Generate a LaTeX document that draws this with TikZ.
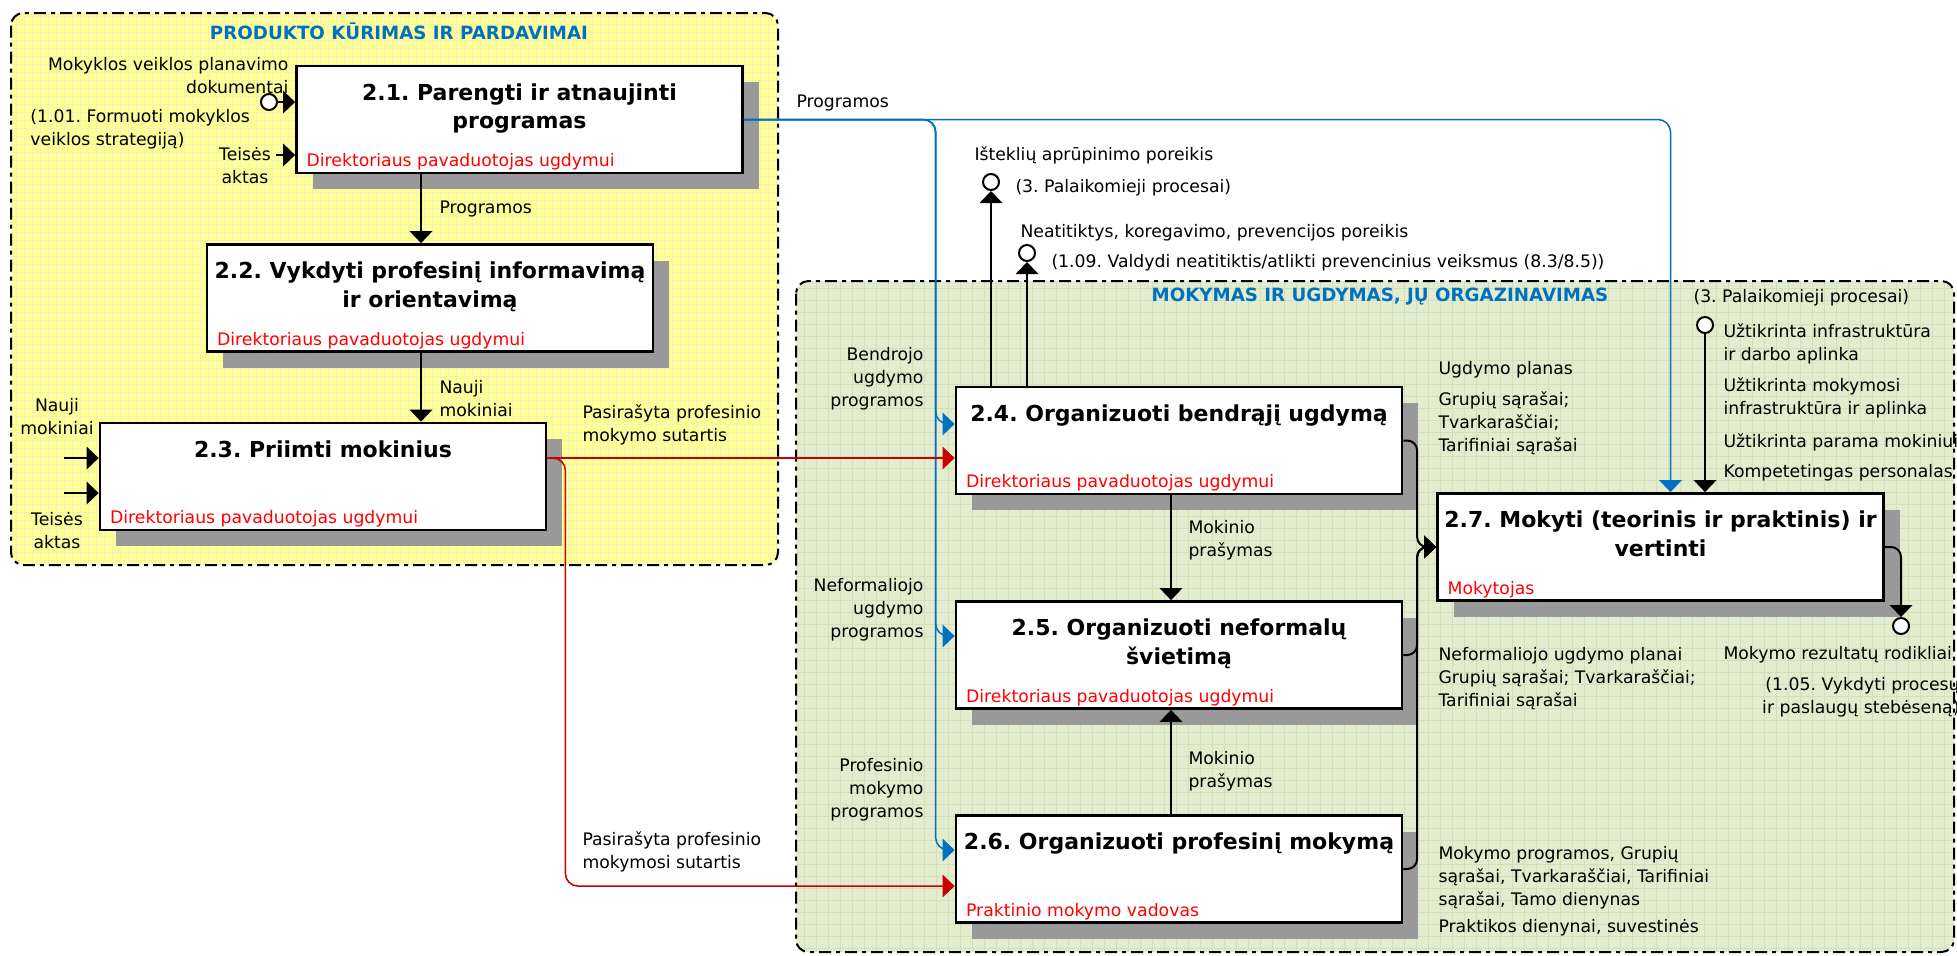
\documentclass[tikz,border=0pt]{standalone}
\usepackage{fontspec}
\setmainfont{DejaVu Sans}
\usetikzlibrary{arrows.meta,positioning,shadows}

\definecolor{flowblue}{RGB}{0,112,192}
\definecolor{flowred}{RGB}{200,0,0}
\definecolor{respred}{RGB}{255,0,0}
\definecolor{grpyellow}{RGB}{255,255,150}
\definecolor{gridyellow}{RGB}{242,242,185}
\definecolor{grpgreen}{RGB}{228,236,208}
\definecolor{gridgreen}{RGB}{210,224,184}

\begin{document}
\frenchspacing
\begin{tikzpicture}[x=0.4pt,y=-0.4pt,>={Triangle[length=4.8pt,width=9pt]},
    procbox/.style={draw,line width=1.1pt,fill=white,minimum width=178.4pt,minimum height=42.8pt,inner sep=0pt,
        drop shadow={shadow xshift=6.4pt,shadow yshift=-6.4pt,fill=black!40,opacity=1}},
    ptitle/.style={font=\fontsize{8.8}{11.3}\selectfont\bfseries,align=center,inner sep=0pt},
    resp/.style={font=\fontsize{6.9}{9.2}\selectfont,text=respred,inner sep=0pt},
    lbl/.style={font=\fontsize{6.9}{9.2}\selectfont,inner sep=0pt},
    grptitle/.style={font=\fontsize{7.3}{9}\selectfont\bfseries,text=flowblue,inner sep=0pt},
    grpframe/.style={line width=0.8pt,dash pattern=on 4.8pt off 2pt on 1.6pt off 2pt,rounded corners=5pt},
    tunnel/.style={circle,draw,line width=0.8pt,fill=white,minimum size=6.4pt,inner sep=0pt},
    flow/.style={->,line width=0.8pt,rounded corners=4pt},
    blueflow/.style={->,color=flowblue,line width=0.6pt,rounded corners=5pt},
    redflow/.style={->,color=flowred,line width=0.6pt,rounded corners=5pt}]

\useasboundingbox (0,0) rectangle (1957,955);

% groups
\begin{scope}
  \clip[rounded corners=5pt] (11,13) rectangle (778,565);
  \fill[grpyellow] (11,13) rectangle (778,565);
  \draw[gridyellow,line width=0.3pt,step=3.2pt] (11,13) grid (778,565);
\end{scope}
\draw[grpframe] (11,13) rectangle (778,565);
\node[grptitle] (gY) at (399,31) {PRODUKTO KŪRIMAS IR PARDAVIMAI};

\begin{scope}
  \clip[rounded corners=5pt] (796,281) rectangle (1954,952);
  \fill[grpgreen] (796,281) rectangle (1954,952);
  \draw[gridgreen,line width=0.3pt,step=4.8pt] (796,281) grid (1954,952);
\end{scope}
\draw[grpframe] (796,281) rectangle (1954,952);
\node[grptitle] (gG) at (1380,297) {MOKYMAS IR UGDYMAS, JŲ ORGAZINAVIMAS};

% activities
\node[procbox] (b21) at (519.5,119.5) {};
\node[ptitle,below=7.4pt of b21.north] (t21) {2.1. Parengti ir atnaujinti\\programas};
\node[resp,above right=1.4pt and 4.4pt of b21.south west] (r21) {Direktoriaus pavaduotojas ugdymui};

\node[procbox] (b22) at (430,298) {};
\node[ptitle,below=7.4pt of b22.north] (t22) {2.2. Vykdyti profesinį informavimą\\ir orientavimą};
\node[resp,above right=1.4pt and 4.4pt of b22.south west] (r22) {Direktoriaus pavaduotojas ugdymui};

\node[procbox] (b23) at (323,476.5) {};
\node[ptitle,below=7.4pt of b23.north] (t23) {2.3. Priimti mokinius};
\node[resp,above right=1.4pt and 4.4pt of b23.south west] (r23) {Direktoriaus pavaduotojas ugdymui};

\node[procbox] (b24) at (1179,440.5) {};
\node[ptitle,below=7.4pt of b24.north] (t24) {2.4. Organizuoti bendrąjį ugdymą};
\node[resp,above right=1.4pt and 4.4pt of b24.south west] (r24) {Direktoriaus pavaduotojas ugdymui};

\node[procbox] (b25) at (1179,655) {};
\node[ptitle,below=7.4pt of b25.north] (t25) {2.5. Organizuoti neformalų\\švietimą};
\node[resp,above right=1.4pt and 4.4pt of b25.south west] (r25) {Direktoriaus pavaduotojas ugdymui};

\node[procbox] (b26) at (1179,869) {};
\node[ptitle,below=7.4pt of b26.north] (t26) {2.6. Organizuoti profesinį mokymą};
\node[resp,above right=1.4pt and 4.4pt of b26.south west] (r26) {Praktinio mokymo vadovas};

\node[procbox] (b27) at (1660.5,547) {};
\node[ptitle,below=7.4pt of b27.north] (t27) {2.7. Mokyti (teorinis ir praktinis) ir\\vertinti};
\node[resp,above right=1.4pt and 4.4pt of b27.south west] (r27) {Mokytojas};

% tunnels and free ends
\node[tunnel] (o21) at (269,102) {};
\coordinate (i21) at (276,155);
\coordinate (i23a) at (64,458);
\coordinate (i23b) at (64,493);
\coordinate (cx1) at (421,0);
\coordinate (cx2) at (1171,0);
\coordinate (o23) at ([yshift=7.4pt]b23.east);
\coordinate (i26r) at ([yshift=-6.8pt]b26.west);
\coordinate (j27) at ([xshift=-7.6pt]b27.west);
\node[tunnel] (o24a) at (991,182) {};
\node[tunnel] (o24b) at (1027,253) {};
\node[tunnel] (m27) at (1705,325) {};
\node[tunnel] (o27) at (1901,626) {};

% blue flows
\draw[blueflow] (b21.east) -| ([xshift=4pt]b27.north);
\draw[blueflow] (b21.east) -| ([xshift=-7.6pt,yshift=6.6pt]b24.west) -- ([yshift=6.6pt]b24.west);
\draw[blueflow] (b21.east) -| ([xshift=-7.6pt,yshift=7.6pt]b25.west) -- ([yshift=7.6pt]b25.west);
\draw[blueflow] (b21.east) -| ([xshift=-7.6pt,yshift=7.6pt]b26.west) -- ([yshift=7.6pt]b26.west);

% red flows
\draw[redflow] (o23) -- (o23 -| b24.west);
\draw[redflow] (o23) -- ++(18,0) |- (i26r);

% black flows
\draw[flow] (o21.east) -- (o21 -| b21.west);
\draw[flow] (i21) -- (i21 -| b21.west);
\draw[flow] (cx1 |- b21.south) -- (cx1 |- b22.north);
\draw[flow] (cx1 |- b22.south) -- (cx1 |- b23.north);
\draw[flow] (i23a) -- (i23a -| b23.west);
\draw[flow] (i23b) -- (i23b -| b23.west);
\draw[flow] (o24a |- b24.north) -- (o24a.south);
\draw[flow] (o24b |- b24.north) -- (o24b.south);
\draw[flow] (cx2 |- b24.south) -- (cx2 |- b25.north);
\draw[flow] (cx2 |- b26.north) -- (cx2 |- b25.south);
\draw[flow] (b24.east) -| (j27) -- (b27.west);
\draw[flow] (b25.east) -| (j27) -- (b27.west);
\draw[flow] (b26.east) -| (j27) -- (b27.west);
\draw[flow] (m27.south) -- (m27 |- b27.north);
\draw[flow] (b27.east) -| (o27.north);

% labels
\node[lbl,align=right,anchor=east] (l1) at (289,75.5) {Mokyklos veiklos planavimo\\dokumentai};
\node[lbl,align=left,anchor=west] (l2) at (30,129) {(1.01. Formuoti mokyklos\\veiklos strategiją)};
\node[lbl,align=center] (l3) at (245,165.5) {Teisės\\aktas};
\node[lbl,anchor=west] (l4) at (439,209) {Programos};
\node[lbl,align=left,anchor=west] (l5) at (439,398.5) {Nauji\\mokiniai};
\node[lbl,align=center] (l6) at (57,416.5) {Nauji\\mokiniai};
\node[lbl,align=center] (l7) at (57,531) {Teisės\\aktas};
\node[lbl,align=left,anchor=west] (l8) at (582,424.5) {Pasirašyta profesinio\\mokymo sutartis};
\node[lbl,align=left,anchor=west] (l9) at (582,851.5) {Pasirašyta profesinio\\mokymosi sutartis};
\node[lbl,anchor=west] (l10) at (796,103) {Programos};
\node[lbl,align=right,anchor=east] (l11) at (924,379) {Bendrojo\\ugdymo\\programos};
\node[lbl,align=right,anchor=east] (l12) at (924,610) {Neformaliojo\\ugdymo\\programos};
\node[lbl,align=right,anchor=east] (l13) at (924,789.5) {Profesinio\\mokymo\\programos};
\node[lbl,anchor=west] (l14) at (974,155) {Išteklių aprūpinimo poreikis};
\node[lbl,anchor=west] (l15) at (1015,188) {(3. Palaikomieji procesai)};
\node[lbl,anchor=west] (l16) at (1020,233) {Neatitiktys, koregavimo, prevencijos poreikis};
\node[lbl,anchor=west] (l17) at (1051,263) {(1.09. Valdydi neatitiktis/atlikti prevencinius veiksmus (8.3/8.5))};
\node[lbl,align=left,anchor=west] (l18) at (1188,540.5) {Mokinio\\prašymas};
\node[lbl,align=left,anchor=west] (l19) at (1188,771.5) {Mokinio\\prašymas};
\node[lbl,anchor=west] (l20) at (1438,370) {Ugdymo planas};
\node[lbl,align=left,anchor=west] (l21) at (1438,423) {Grupių sąrašai;\\Tvarkaraščiai;\\Tarifiniai sąrašai};
\node[lbl,align=left,anchor=west] (l22) at (1438,679) {Neformaliojo ugdymo planai\\Grupių sąrašai; Tvarkaraščiai;\\Tarifiniai sąrašai};
\node[lbl,align=left,anchor=west] (l23) at (1438,878) {Mokymo programos, Grupių\\sąrašai, Tvarkaraščiai, Tarifiniai\\sąrašai, Tamo dienynas};
\node[lbl,anchor=west] (l24) at (1438,928) {Praktikos dienynai, suvestinės};
\node[lbl,anchor=west] (l25) at (1693,298) {(3. Palaikomieji procesai)};
\node[lbl,align=left,anchor=west] (l26) at (1723,343.5) {Užtikrinta infrastruktūra\\ir darbo aplinka};
\node[lbl,align=left,anchor=west] (l27) at (1723,397.5) {Užtikrinta mokymosi\\infrastruktūra ir aplinka};
\node[lbl,anchor=west] (l28) at (1723,442) {Užtikrinta parama mokiniui};
\node[lbl,anchor=west] (l29) at (1723,473) {Kompetetingas personalas};
\node[lbl,anchor=west] (l30) at (1723,655) {Mokymo rezultatų rodikliai};
\node[lbl,align=right,anchor=east] (l31) at (1960,697.5) {(1.05. Vykdyti procesų\\ir paslaugų stebėseną)};
\end{tikzpicture}
\end{document}
